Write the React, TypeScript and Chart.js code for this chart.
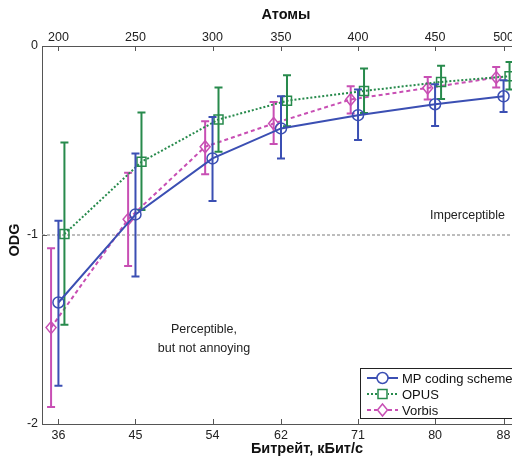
import { useEffect, useRef } from "react";
import { Chart, registerables } from "chart.js";

Chart.register(...registerables);

// Bitrate (bottom axis) and matching atom counts (top axis)
const BITRATES = [36, 45, 54, 62, 71, 80, 88];
const ATOMS = [200, 250, 300, 350, 400, 450, 500];

// ODG means with lower / upper error limits
const MP_MEAN = [-1.357, -0.891, -0.595, -0.436, -0.366, -0.308, -0.266];
const MP_LOW = [-1.798, -1.22, -0.82, -0.595, -0.498, -0.423, -0.349];
const MP_HIGH = [-0.924, -0.569, -0.375, -0.266, -0.23, -0.202, -0.181];

const OPUS_MEAN = [-0.995, -0.613, -0.389, -0.29, -0.238, -0.19, -0.16];
const OPUS_LOW = [-1.475, -0.868, -0.56, -0.424, -0.354, -0.28, -0.23];
const OPUS_HIGH = [-0.51, -0.352, -0.22, -0.155, -0.119, -0.104, -0.085];

const VORBIS_MEAN = [-1.49, -0.917, -0.533, -0.41, -0.283, -0.222, -0.167];
const VORBIS_LOW = [-1.91, -1.164, -0.678, -0.519, -0.357, -0.283, -0.22];
const VORBIS_HIGH = [-1.07, -0.671, -0.398, -0.296, -0.213, -0.164, -0.111];

// small horizontal shifts so the error bars do not overlap
const OPUS_SHIFT = 0.7;
const VORBIS_SHIFT = -0.86;

const FONT = '"Liberation Sans", Arial, Helvetica, sans-serif';
const BLUE = "#3b4fb3";
const GREEN = "#278a4c";
const MAGENTA = "#c84fb4";

type Marker = "circle" | "square" | "diamond";

function drawMarker(ctx: CanvasRenderingContext2D, kind: Marker, x: number, y: number, color: string) {
  ctx.save();
  ctx.setLineDash([]);
  ctx.strokeStyle = color;
  ctx.lineWidth = 1.5;
  ctx.beginPath();
  if (kind === "circle") {
    ctx.arc(x, y, 5.5, 0, Math.PI * 2);
  } else if (kind === "square") {
    ctx.rect(x - 4.5, y - 4.5, 9, 9);
  } else {
    ctx.moveTo(x, y - 6);
    ctx.lineTo(x + 5, y);
    ctx.lineTo(x, y + 6);
    ctx.lineTo(x - 5, y);
    ctx.closePath();
  }
  ctx.stroke();
  ctx.restore();
}

const seriesList = [
  { label: "MP coding scheme", mean: MP_MEAN, low: MP_LOW, high: MP_HIGH, shift: 0, color: BLUE, dash: [] as number[], marker: "circle" as Marker },
  { label: "OPUS", mean: OPUS_MEAN, low: OPUS_LOW, high: OPUS_HIGH, shift: OPUS_SHIFT, color: GREEN, dash: [2, 2], marker: "square" as Marker },
  { label: "Vorbis", mean: VORBIS_MEAN, low: VORBIS_LOW, high: VORBIS_HIGH, shift: VORBIS_SHIFT, color: MAGENTA, dash: [4, 3], marker: "diamond" as Marker },
];

const odgPlugin = {
  id: "odgDecor",
  beforeDatasetsDraw(chart: any) {
    const { ctx, chartArea } = chart;
    const y = chart.scales.y;
    const yp = y.getPixelForValue(-1);
    ctx.save();
    ctx.strokeStyle = "#a8a8a8";
    ctx.lineWidth = 1.5;
    ctx.setLineDash([3, 2]);
    ctx.beginPath();
    ctx.moveTo(chartArea.left, yp);
    ctx.lineTo(chartArea.right, yp);
    ctx.stroke();
    ctx.setLineDash([]);
    ctx.fillStyle = "#222";
    ctx.font = `12.5px ${FONT}`;
    ctx.textAlign = "left";
    ctx.textBaseline = "middle";
    ctx.fillText("Imperceptible", 430, yp - 19);
    ctx.textAlign = "center";
    ctx.fillText("Perceptible,", 204, 330);
    ctx.fillText("but not annoying", 204, 349);
    ctx.restore();
  },
  afterDatasetDraw(chart: any, args: any) {
    const s = seriesList[args.index];
    const { ctx } = chart;
    const y = chart.scales.y;
    ctx.save();
    ctx.strokeStyle = s.color;
    ctx.lineWidth = 2;
    ctx.setLineDash([]);
    args.meta.data.forEach((pt: any, i: number) => {
      const x = pt.x;
      const y1 = y.getPixelForValue(s.low[i]);
      const y2 = y.getPixelForValue(s.high[i]);
      ctx.beginPath();
      ctx.moveTo(x, y1);
      ctx.lineTo(x, y2);
      ctx.moveTo(x - 4, y1);
      ctx.lineTo(x + 4, y1);
      ctx.moveTo(x - 4, y2);
      ctx.lineTo(x + 4, y2);
      ctx.stroke();
      drawMarker(ctx, s.marker, x, pt.y, s.color);
    });
    ctx.restore();
  },
  afterDraw(chart: any) {
    const { ctx, chartArea } = chart;
    const x = chart.scales.x;
    const y = chart.scales.y;
    ctx.save();
    // inward tick marks
    ctx.strokeStyle = "#555";
    ctx.lineWidth = 1;
    ctx.beginPath();
    BITRATES.forEach((b) => {
      const px = Math.round(x.getPixelForValue(b)) + 0.5;
      ctx.moveTo(px, chartArea.bottom);
      ctx.lineTo(px, chartArea.bottom - 5);
      ctx.moveTo(px, chartArea.top);
      ctx.lineTo(px, chartArea.top + 5);
    });
    [0, -1, -2].forEach((v) => {
      const py = Math.round(y.getPixelForValue(v)) + 0.5;
      ctx.moveTo(chartArea.left, py);
      ctx.lineTo(chartArea.left + 5, py);
    });
    ctx.stroke();

    // axis titles
    ctx.fillStyle = "#111";
    ctx.font = `bold 14.5px ${FONT}`;
    ctx.textAlign = "center";
    ctx.textBaseline = "middle";
    ctx.fillText("Атомы", 286, 15);
    ctx.fillText("Битрейт, кБит/с", 307, 449);
    ctx.save();
    ctx.translate(15, 240);
    ctx.rotate(-Math.PI / 2);
    ctx.fillText("ODG", 0, 0);
    ctx.restore();

    // legend
    const lx = 360;
    const ly = 368;
    ctx.fillStyle = "#fff";
    ctx.fillRect(lx, ly, 180, 50);
    ctx.strokeStyle = "#222";
    ctx.lineWidth = 1;
    ctx.strokeRect(lx + 0.5, ly + 0.5, 180, 50);
    ctx.font = `13px ${FONT}`;
    ctx.textAlign = "left";
    seriesList.forEach((s, i) => {
      const yy = ly + 10 + i * 16;
      ctx.strokeStyle = s.color;
      ctx.lineWidth = 2;
      ctx.setLineDash(s.dash);
      ctx.beginPath();
      ctx.moveTo(lx + 7, yy);
      ctx.lineTo(lx + 38, yy);
      ctx.stroke();
      ctx.setLineDash([]);
      ctx.fillStyle = "#fff";
      ctx.fillRect(lx + 17, yy - 5, 11, 10);
      drawMarker(ctx, s.marker, lx + 22.5, yy, s.color);
      ctx.fillStyle = "#111";
      ctx.fillText(s.label, lx + 42, yy + 1);
    });
    ctx.restore();
  },
};

export default function App() {
  const canvasRef = useRef<HTMLCanvasElement | null>(null);

  useEffect(() => {
    const canvas = canvasRef.current;
    if (!canvas) return;
    const tickFont = { family: FONT, size: 12.5 };
    const chart = new Chart(canvas, {
      type: "scatter",
      data: {
        datasets: seriesList.map((s) => ({
          label: s.label,
          data: BITRATES.map((b, i) => ({ x: b + s.shift, y: s.mean[i] })),
          showLine: true,
          borderColor: s.color,
          borderWidth: 2,
          borderDash: s.dash,
          pointRadius: 0,
          pointHoverRadius: 0,
          backgroundColor: "transparent",
          xAxisID: "x",
          yAxisID: "y",
        })),
      },
      options: {
        animation: false,
        responsive: false,
        devicePixelRatio: 1,
        layout: { padding: { left: 0, right: 20, top: 0, bottom: 0 } },
        plugins: { legend: { display: false }, tooltip: { enabled: false } },
        scales: {
          x: {
            type: "linear",
            position: "bottom",
            min: 34.08,
            max: 89.92,
            afterBuildTicks: (scale: any) => {
              scale.ticks = BITRATES.map((v) => ({ value: v }));
            },
            afterFit: (scale: any) => {
              scale.height = 35;
            },
            ticks: { font: tickFont, color: "#222", padding: 4, maxRotation: 0, autoSkip: false, callback: (v: any) => String(v) },
            grid: { display: false, drawTicks: false },
            border: { display: true, color: "#555", width: 1 },
          },
          x2: {
            type: "linear",
            position: "top",
            min: 34.08,
            max: 89.92,
            afterBuildTicks: (scale: any) => {
              scale.ticks = BITRATES.map((v) => ({ value: v }));
            },
            afterFit: (scale: any) => {
              scale.height = 46;
            },
            ticks: {
              font: tickFont,
              color: "#222",
              padding: 1,
              maxRotation: 0,
              autoSkip: false,
              callback: (v: any) => {
                const i = BITRATES.indexOf(Number(v));
                return i >= 0 ? String(ATOMS[i]) : "";
              },
            },
            grid: { display: false, drawTicks: false },
            border: { display: true, color: "#555", width: 1 },
          },
          y: {
            type: "linear",
            min: -2,
            max: 0,
            afterFit: (scale: any) => {
              scale.width = 42;
            },
            ticks: { font: tickFont, color: "#222", stepSize: 1, padding: 4 },
            grid: { display: false, drawTicks: false },
            border: { display: true, color: "#555", width: 1 },
          },
        },
      },
      plugins: [odgPlugin],
    } as any);
    return () => chart.destroy();
  }, []);

  return (
    <div
      style={{
        position: "fixed",
        left: 0,
        top: 0,
        width: 512,
        height: 459,
        overflow: "hidden",
        background: "#fff",
      }}
    >
      <canvas ref={canvasRef} width={540} height={459} style={{ display: "block", width: 540, height: 459 }} />
    </div>
  );
}
